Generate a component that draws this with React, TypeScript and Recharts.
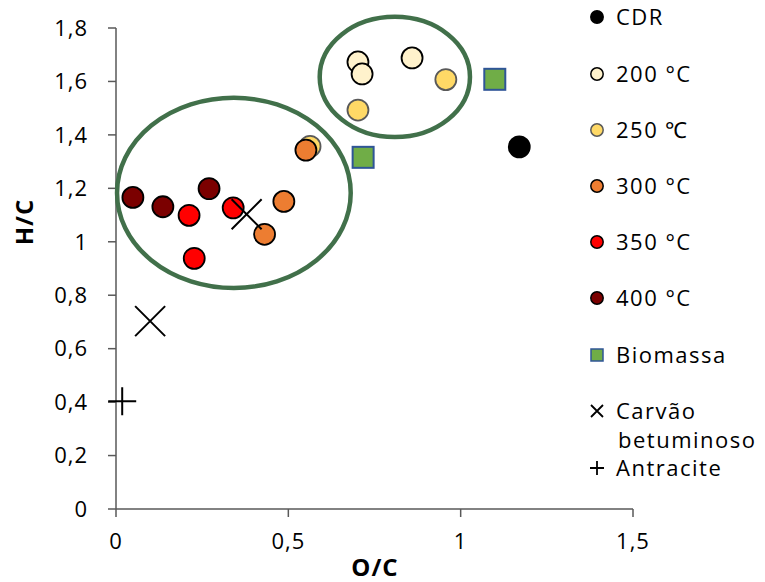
import {
  ScatterChart,
  Scatter,
  XAxis,
  YAxis,
  ReferenceDot,
} from "recharts";

type Pt = { x: number; y: number };

const CDR: Pt[] = [{ x: 1.17, y: 1.355 }];
const T200: Pt[] = [
  { x: 0.702, y: 1.673 },
  { x: 0.714, y: 1.628 },
  { x: 0.859, y: 1.688 },
];
const T250: Pt[] = [
  { x: 0.957, y: 1.607 },
  { x: 0.702, y: 1.493 },
  { x: 0.563, y: 1.357 },
];
const T300: Pt[] = [
  { x: 0.551, y: 1.343 },
  { x: 0.487, y: 1.151 },
  { x: 0.431, y: 1.028 },
];
const T350: Pt[] = [
  { x: 0.340, y: 1.127 },
  { x: 0.212, y: 1.099 },
  { x: 0.227, y: 0.938 },
];
const T400: Pt[] = [
  { x: 0.049, y: 1.166 },
  { x: 0.136, y: 1.131 },
  { x: 0.270, y: 1.199 },
];
const BIOMASSA: Pt[] = [
  { x: 1.099, y: 1.608 },
  { x: 0.717, y: 1.316 },
];
const CARVAO: Pt[] = [
  { x: 0.379, y: 1.103 },
  { x: 0.099, y: 0.703 },
];
const ANTRACITE: Pt[] = [{ x: 0.018, y: 0.403 }];

// highlight ellipses (center + radii in data units)
const CLUSTERS = [
  { x: 0.342, y: 1.183, rx: 0.339, ry: 0.356 },
  { x: 0.809, y: 1.617, rx: 0.218, ry: 0.225 },
];

const X_TICKS = [0, 0.5, 1, 1.5];
const Y_TICKS = [0, 0.2, 0.4, 0.6, 0.8, 1, 1.2, 1.4, 1.6, 1.8];

const W = 765;
const H = 582;
const MARGIN = { top: 28, right: 132, bottom: 13, left: 0 };
const Y_AXIS_W = 116;
const X_AXIS_H = 60;
const PX_PER_X = (W - MARGIN.right - MARGIN.left - Y_AXIS_W) / 1.5;
const PX_PER_Y = (H - MARGIN.top - MARGIN.bottom - X_AXIS_H) / 1.8;

const FONT = "'Open Sans', sans-serif";
const AXIS = "#595959";
const GREEN = "#41704a";

const fmt = (v: number) => String(v).replace(".", ",");

const dot =
  (fill: string, stroke = "#000") =>
  (p: any) => (
    <circle cx={p.cx} cy={p.cy} r={10.5} fill={fill} stroke={stroke} strokeWidth={1.8} />
  );

const square = (p: any) => (
  <rect x={p.cx - 10.5} y={p.cy - 10.5} width={21} height={21} fill="#70ad47" stroke="#2f5597" strokeWidth={2} />
);

const cross = (p: any) => (
  <path
    d={`M${p.cx - 15},${p.cy - 15}L${p.cx + 15},${p.cy + 15}M${p.cx + 15},${p.cy - 15}L${p.cx - 15},${p.cy + 15}`}
    stroke="#000"
    strokeWidth={2}
  />
);

const plus = (p: any) => (
  <path
    d={`M${p.cx - 14},${p.cy}L${p.cx + 14},${p.cy}M${p.cx},${p.cy - 14}L${p.cx},${p.cy + 14}`}
    stroke="#000"
    strokeWidth={2}
  />
);

const tickStyle = { fill: "#000", fontSize: 22, fontFamily: FONT, letterSpacing: 1 };

const LEGEND = [
  { label: "CDR", y: 17, kind: "dot", fill: "#000", stroke: "#000" },
  { label: "200 °C", y: 74, kind: "dot", fill: "#fff2cc", stroke: "#000" },
  { label: "250 ℃", y: 130, kind: "dot", fill: "#ffd966", stroke: AXIS },
  { label: "300 °C", y: 186, kind: "dot", fill: "#ed7d31", stroke: "#000" },
  { label: "350 °C", y: 242, kind: "dot", fill: "#ff0000", stroke: "#000" },
  { label: "400 °C", y: 298, kind: "dot", fill: "#7b0000", stroke: "#000" },
  { label: "Biomassa", y: 355, kind: "square", fill: "#70ad47", stroke: "#2f5597" },
  { label: "Carvão", y: 411, kind: "cross", fill: "", stroke: "#000" },
  { label: "Antracite", y: 468, kind: "plus", fill: "", stroke: "#000" },
];

const LegendMarker = ({ kind, fill, stroke }: { kind: string; fill: string; stroke: string }) => (
  <svg width={16} height={16} style={{ position: "absolute", left: 589, top: -8 }}>
    {kind === "dot" && <circle cx={8} cy={8} r={6.2} fill={fill} stroke={stroke} strokeWidth={1.5} />}
    {kind === "square" && <rect x={2} y={2} width={12} height={12} fill={fill} stroke={stroke} strokeWidth={1.5} />}
    {kind === "cross" && <path d="M2,2L14,14M14,2L2,14" stroke="#000" strokeWidth={1.8} />}
    {kind === "plus" && <path d="M1,8L15,8M8,1L8,15" stroke="#000" strokeWidth={1.8} />}
  </svg>
);

export default function App() {
  return (
    <div style={{ position: "absolute", left: 0, top: 0, width: W, height: H, background: "#fff", fontFamily: FONT }}>
      <ScatterChart width={W} height={H} margin={MARGIN}>
        <XAxis
          type="number"
          dataKey="x"
          domain={[0, 1.5]}
          ticks={X_TICKS}
          tickFormatter={fmt}
          height={X_AXIS_H}
          tickSize={8}
          tickMargin={16}
          stroke={AXIS}
          strokeWidth={1.5}
          tick={tickStyle}
          label={{
            content: () => (
              <text x={375} y={576} textAnchor="middle" fontSize={24} fontWeight={700} fontFamily={FONT} fill="#000" letterSpacing={1}>
                O/C
              </text>
            ),
          }}
        />
        <YAxis
          type="number"
          dataKey="y"
          domain={[0, 1.8]}
          ticks={Y_TICKS}
          tickFormatter={fmt}
          width={Y_AXIS_W}
          tickSize={8}
          tickMargin={20}
          stroke={AXIS}
          strokeWidth={1.5}
          tick={tickStyle}
          label={{
            content: () => (
              <text
                x={33}
                y={222}
                transform="rotate(-90, 33, 222)"
                textAnchor="middle"
                fontSize={24}
                fontWeight={700}
                fontFamily={FONT}
                fill="#000"
                letterSpacing={1}
              >
                H/C
              </text>
            ),
          }}
        />
        {CLUSTERS.map((c, i) => (
          <ReferenceDot
            key={i}
            x={c.x}
            y={c.y}
            ifOverflow="visible"
            shape={(p: any) => (
              <ellipse
                cx={p.cx}
                cy={p.cy}
                rx={c.rx * PX_PER_X}
                ry={c.ry * PX_PER_Y}
                fill="none"
                stroke={GREEN}
                strokeWidth={4.5}
              />
            )}
          />
        ))}
        <Scatter name="CDR" data={CDR} shape={dot("#000")} isAnimationActive={false} />
        <Scatter name="250 ℃" data={T250} shape={dot("#ffd966", AXIS)} isAnimationActive={false} />
        <Scatter name="200 °C" data={T200} shape={dot("#fff2cc")} isAnimationActive={false} />
        <Scatter name="300 °C" data={T300} shape={dot("#ed7d31")} isAnimationActive={false} />
        <Scatter name="350 °C" data={T350} shape={dot("#ff0000")} isAnimationActive={false} />
        <Scatter name="400 °C" data={T400} shape={dot("#7b0000")} isAnimationActive={false} />
        <Scatter name="Biomassa" data={BIOMASSA} shape={square} isAnimationActive={false} />
        <Scatter name="Carvão betuminoso" data={CARVAO} shape={cross} isAnimationActive={false} />
        <Scatter name="Antracite" data={ANTRACITE} shape={plus} isAnimationActive={false} />
      </ScatterChart>
      {LEGEND.map((l) => (
        <div key={l.label} style={{ position: "absolute", left: 0, top: l.y, height: 0 }}>
          <LegendMarker kind={l.kind} fill={l.fill} stroke={l.stroke} />
          <div
            style={{
              position: "absolute",
              left: 616,
              top: -15,
              fontSize: 22,
              lineHeight: "29px",
              letterSpacing: 1.5,
              whiteSpace: "nowrap",
              color: "#000",
            }}
          >
            {l.label}
            {l.kind === "cross" && <div style={{ marginLeft: 2 }}>betuminoso</div>}
          </div>
        </div>
      ))}
    </div>
  );
}
